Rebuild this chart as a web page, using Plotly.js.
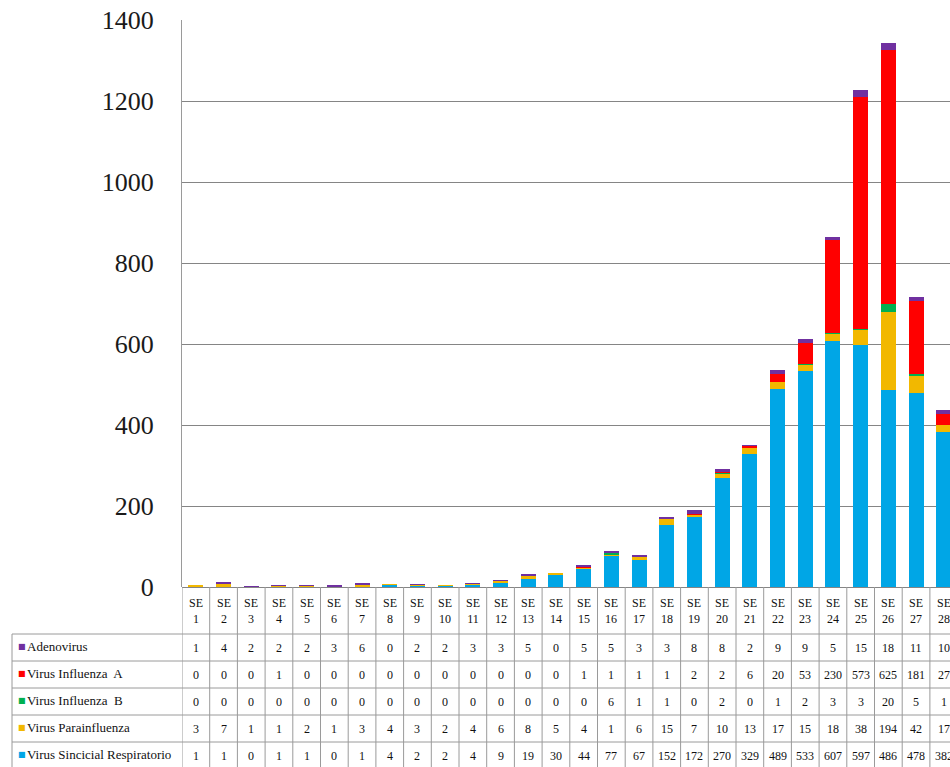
<!DOCTYPE html>
<html>
<head>
<meta charset="utf-8">
<script src="https://cdn.plot.ly/plotly-3.0.1.min.js"></script>
<style>html,body{margin:0;padding:0;background:#fff;overflow:hidden}</style>
</head>
<body>
<div id="chart" style="width:950px;height:767px"></div>
<script>
const weeks = ["SE 1","SE 2","SE 3","SE 4","SE 5","SE 6","SE 7","SE 8","SE 9","SE 10","SE 11","SE 12","SE 13","SE 14","SE 15","SE 16","SE 17","SE 18","SE 19","SE 20","SE 21","SE 22","SE 23","SE 24","SE 25","SE 26","SE 27","SE 28"];
const adenovirus    = [1,4,2,2,2,3,6,0,2,2,3,3,5,0,5,5,3,3,8,8,2,9,9,5,15,18,11,10];
const influenzaA    = [0,0,0,1,0,0,0,0,0,0,0,0,0,0,1,1,1,1,2,2,6,20,53,230,573,625,181,27];
const influenzaB    = [0,0,0,0,0,0,0,0,0,0,0,0,0,0,0,6,1,1,0,2,0,1,2,3,3,20,5,1];
const parainfluenza = [3,7,1,1,2,1,3,4,3,2,4,6,8,5,4,1,6,15,7,10,13,17,15,18,38,194,42,17];
const sincicial     = [1,1,0,1,1,0,1,4,2,2,4,9,19,30,44,77,67,152,172,270,329,489,533,607,597,486,478,382];
const seriesNames = ["Adenovirus","Virus Influenza  A","Virus Influenza  B","Virus Parainfluenza","Virus Sincicial Respiratorio"];
const yTicks = [0,200,400,600,800,1000,1200,1400];

const colors = {
  adeno: "#7030A0", infA: "#FF0000", infB: "#00B050", para: "#F2B800", vsr: "#00A6E6"
};

// table rows top to bottom
const rows = [
  {name: seriesNames[0], vals: adenovirus, color: colors.adeno},
  {name: seriesNames[1], vals: influenzaA, color: colors.infA},
  {name: seriesNames[2], vals: influenzaB, color: colors.infB},
  {name: seriesNames[3], vals: parainfluenza, color: colors.para},
  {name: seriesNames[4], vals: sincicial, color: colors.vsr}
];

const xIdx = weeks.map((w, i) => i);
function bar(vals, name, color) {
  return {type: "bar", x: xIdx, y: vals, name: name, marker: {color: color, line: {width: 0}}, width: 0.54, hoverinfo: "y+name"};
}
const data = [
  bar(sincicial, seriesNames[4], colors.vsr),
  bar(parainfluenza, seriesNames[3], colors.para),
  bar(influenzaB, seriesNames[2], colors.infB),
  bar(influenzaA, seriesNames[1], colors.infA),
  bar(adenovirus, seriesNames[0], colors.adeno)
];

// pixel geometry helpers (plot area: top 20, bottom 587, left 182, width 768)
const plotTop = 20, plotBottom = 587, plotLeft = 182, plotW = 768;
const plotH = plotBottom - plotTop;
const py = y => (plotBottom - y) / plotH;       // pixel y -> paper y
const px = x => (x - plotLeft) / plotW;          // pixel x -> paper x

const shapes = [];
const annotations = [];
const lineColor = "#9a9a9a";
const headerBottom = 634;
const rowLines = [634, 661, 688, 715, 742];
const tableBottom = 767;

// vertical lines of table at column boundaries
for (let i = 0; i <= weeks.length; i++) {
  shapes.push({type: "line", xref: "x", yref: "paper", x0: i - 0.5, x1: i - 0.5, y0: py(plotBottom), y1: py(tableBottom + 5), line: {color: lineColor, width: 1}});
}
// left label column borders
shapes.push({type: "line", xref: "paper", yref: "paper", x0: px(12), x1: px(12), y0: py(headerBottom), y1: py(tableBottom + 5), line: {color: lineColor, width: 1}});
// horizontal lines
rowLines.forEach(y => {
  shapes.push({type: "line", xref: "paper", yref: "paper", x0: px(12), x1: 1, y0: py(y), y1: py(y), line: {color: lineColor, width: 1}});
});

// header cells
weeks.forEach((w, i) => {
  const parts = w.split(" ");
  annotations.push({xref: "x", yref: "paper", x: i, y: py(611), text: parts[0] + "<br>" + parts[1], showarrow: false, xanchor: "center", yanchor: "middle", font: {family: "Liberation Serif, serif", size: 12, color: "#111"}});
});
// data cells and labels
rows.forEach((r, ri) => {
  const yc = (rowLines[ri] + (ri < rowLines.length - 1 ? rowLines[ri + 1] : tableBottom + 2)) / 2;
  r.vals.forEach((v, i) => {
    annotations.push({xref: "x", yref: "paper", x: i, y: py(yc), text: String(v), showarrow: false, xanchor: "center", yanchor: "middle", font: {family: "Liberation Serif, serif", size: 12, color: "#111"}});
  });
  annotations.push({xref: "paper", yref: "paper", x: px(16), y: py(yc - 1), text: "■", showarrow: false, xanchor: "left", yanchor: "middle", font: {family: "DejaVu Sans, sans-serif", size: 8, color: r.color}});
  annotations.push({xref: "paper", yref: "paper", x: px(25), y: py(yc - 1), text: r.name, showarrow: false, xanchor: "left", yanchor: "middle", font: {family: "Liberation Serif, serif", size: 13, color: "#111"}});
});

const layout = {
  width: 950, height: 767,
  margin: {l: plotLeft, r: 0, t: plotTop, b: 767 - plotBottom, pad: 0},
  paper_bgcolor: "#fff", plot_bgcolor: "#fff",
  barmode: "stack",
  showlegend: false,
  bargap: 0.46,
  xaxis: {range: [-0.5, -0.5 + plotW / 27.7], showticklabels: false, showgrid: false, zeroline: false, showline: false, ticks: "", fixedrange: true},
  yaxis: {range: [0, 1400], tickvals: yTicks, ticktext: yTicks.map(String), showgrid: true, gridcolor: "#858585", gridwidth: 1, zeroline: true, zerolinecolor: "#858585", zerolinewidth: 1, showline: true, linecolor: "#9a9a9a", linewidth: 1, ticks: "", ticklabelstandoff: 22, tickfont: {family: "Liberation Serif, serif", size: 26, color: "#1a1a1a"}, fixedrange: true},
  shapes: shapes,
  annotations: annotations
};

Plotly.newPlot("chart", data, layout, {displayModeBar: false, staticPlot: true});
</script>
</body>
</html>
